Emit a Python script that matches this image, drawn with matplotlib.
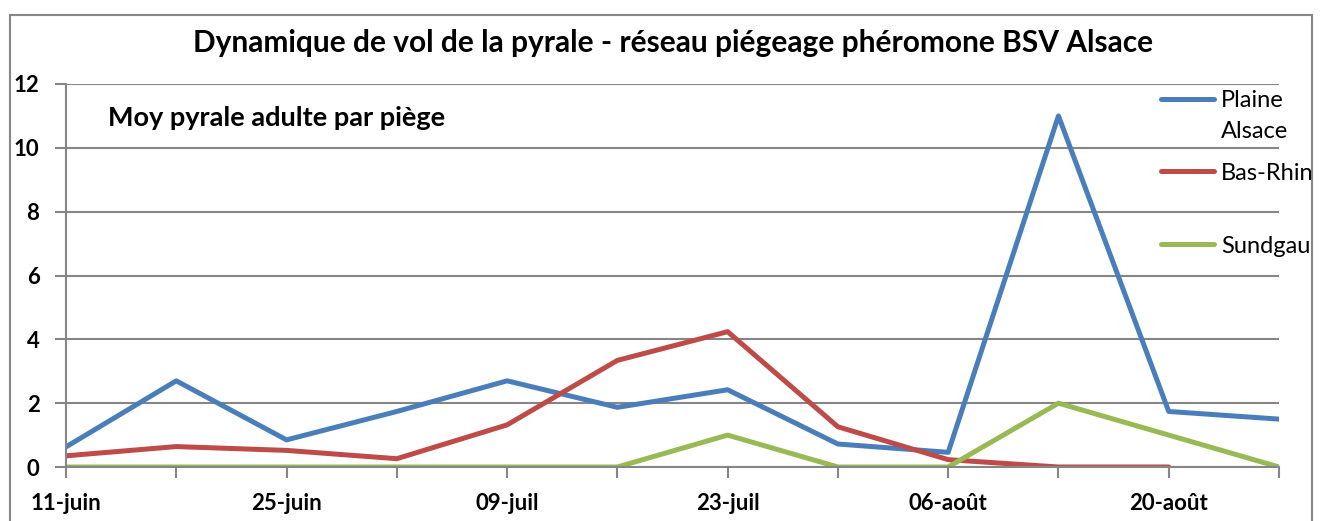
import numpy as np
import matplotlib
matplotlib.use("Agg")
import matplotlib.pyplot as plt
from matplotlib.patches import Rectangle

plt.rcParams['font.family'] = ['Lato', 'DejaVu Sans']

# weekly trap counts
dates = ["11-juin", "18-juin", "25-juin", "02-juil", "09-juil", "16-juil",
         "23-juil", "30-juil", "06-août", "13-août", "20-août", "27-août"]
plaine_alsace = [0.63, 2.7, 0.85, 1.74, 2.7, 1.87, 2.42, 0.72, 0.46, 11.0, 1.74, 1.5]
bas_rhin = [0.35, 0.64, 0.52, 0.26, 1.32, 3.34, 4.24, 1.26, 0.23, 0.0, 0.0, np.nan]
sundgau = [0, 0, 0, 0, 0, 0, 1.0, 0, 0, 2.0, 1.0, 0]

grey = "#868686"

fig = plt.figure(figsize=(13.24, 5.21), dpi=100)
ax = fig.add_axes([66 / 1324, 1 - 467 / 521, (1279 - 66) / 1324, (467 - 84) / 521])

x = np.arange(len(dates))
ax.plot(x, plaine_alsace, color="#4A7EBB", lw=3.6, label="Plaine\nAlsace", solid_capstyle="round")
# trailing blank line keeps the legend slots even, as in the original
ax.plot(x, bas_rhin, color="#BE4B48", lw=3.6, label="Bas-Rhin\n", solid_capstyle="round")
ax.plot(x, sundgau, color="#98B954", lw=3.6, label="Sundgau", solid_capstyle="round")

ax.set_xlim(0, len(dates) - 1)
ax.set_ylim(0, 12)
ax.set_yticks(range(0, 13, 2))
ax.set_xticks(x)
ax.set_xticklabels([d if i % 2 == 0 else "" for i, d in enumerate(dates)])
ax.yaxis.grid(True, color=grey, lw=1.5)
ax.set_axisbelow(True)

for s in ["top", "right"]:
    ax.spines[s].set_visible(False)
for s in ["left", "bottom"]:
    ax.spines[s].set_color(grey)
    ax.spines[s].set_linewidth(1.5)
ax.tick_params(axis="both", direction="out", length=8, width=1.5, color=grey,
               labelsize=16, pad=11)
for lab in ax.get_xticklabels() + ax.get_yticklabels():
    lab.set_fontweight("bold")

ax.text(0.035, 0.91, "Moy pyrale adulte par piège", transform=ax.transAxes,
        fontsize=19.5, fontweight="bold", va="center")

fig.text(0.508, 0.918, "Dynamique de vol de la pyrale - réseau piégeage phéromone BSV Alsace",
         ha="center", va="center", fontsize=21.5, fontweight="bold")

leg = ax.legend(loc="upper left", bbox_to_anchor=(0.895, 1.008), frameon=False,
                fontsize=17, handlelength=2.25, handletextpad=0.3, labelspacing=0.9,
                borderaxespad=0)
for t in leg.get_texts():
    t.set_linespacing(1.55)
# put the handle next to the first line of a two-line label
for col in leg._legend_handle_box.get_children():
    for row in col.get_children():
        row.align = "top"

fig.patches.append(Rectangle((10 / 1324, -0.05), (1312 - 10) / 1324, 1 - 15 / 521 + 0.05,
                             transform=fig.transFigure, fill=False, edgecolor=grey, lw=1.5))

fig.savefig("out.png", dpi=100)
